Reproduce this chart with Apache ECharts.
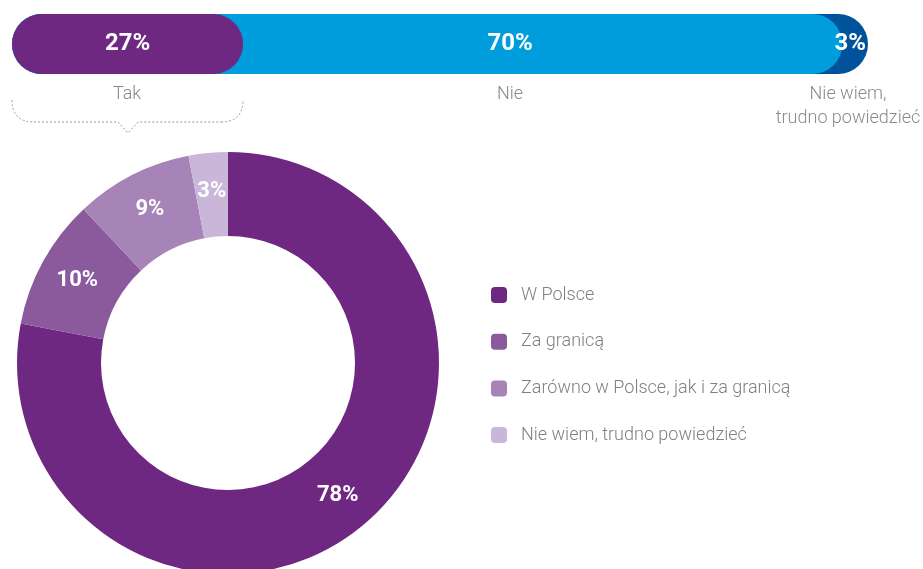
<!DOCTYPE html>
<html>
<head>
<meta charset="utf-8">
<script src="https://cdn.jsdelivr.net/npm/echarts@6/dist/echarts.min.js"></script>
<style>
  html, body { margin: 0; padding: 0; background: #fff; }
  #chart { width: 923px; height: 569px; }
</style>
</head>
<body>
<div id="chart"></div>
<script>
// top bar: answer shares
const answerNames = ['Tak', 'Nie', 'Nie wiem,\ntrudno powiedzieć'];
const answerValues = [27, 70, 3];
const answerColors = ['#6E2882', '#009DDC', '#00529B'];

// donut: where
const placeNames = ['W Polsce', 'Za granicą', 'Zarówno w Polsce, jak i za granicą', 'Nie wiem, trudno powiedzieć'];
const placeValues = [78, 10, 9, 3];
const placeColors = ['#6E2882', '#8A5A9C', '#A784B8', '#C9B6D8'];

const FONT = 'Roboto, "Noto Sans", sans-serif';

// the bars overlap, so each one runs from 0 to its running total
let running = 0;
const cumulative = answerValues.map(v => (running += v));

const barLabel = {
  show: true,
  color: '#fff',
  fontFamily: FONT,
  fontWeight: 'bold',
  fontSize: 24
};
const barSeries = answerValues.map((v, i) => ({
  type: 'bar',
  name: answerNames[i],
  barWidth: 60,
  barGap: '-100%',
  z: 10 - i,
  data: [cumulative[i]],
  itemStyle: {color: answerColors[i], borderRadius: 30},
  label: Object.assign({}, barLabel, {show: i < 2, position: 'inside', formatter: v + '%'}),
  silent: true
}));
barSeries[1].label.position = ['60%', '50%'];
barSeries[1].label.align = 'center';
barSeries[1].label.verticalAlign = 'middle';
// the last (narrow) piece sits under the others, so its label is put on a clear bar on top
barSeries.push({
  type: 'bar',
  barWidth: 60,
  barGap: '-100%',
  z: 20,
  data: [cumulative[2]],
  itemStyle: {color: 'rgba(0,0,0,0)'},
  label: Object.assign({}, barLabel, {position: 'insideRight', distance: 2, formatter: answerValues[2] + '%'}),
  silent: true
});

const captionStyle = {fill: '#8a8a8a', font: '300 18px ' + FONT, textAlign: 'center', lineHeight: 24};
const dash = {fill: 'none', stroke: '#9a9a9a', lineWidth: 1, lineDash: [2, 2]};

let chart = echarts.init(document.getElementById('chart'));
chart.setOption({
  animation: false,
  grid: {left: 12, right: 55, top: 14, height: 60},
  xAxis: {type: 'value', min: 0, max: 100, show: false},
  yAxis: {type: 'category', data: ['all'], show: false},
  legend: {
    orient: 'vertical',
    left: 486,
    top: 281,
    itemWidth: 16,
    itemHeight: 16,
    itemGap: 28.7,
    icon: 'roundRect',
    data: placeNames,
    textStyle: {
      color: '#808080',
      fontFamily: FONT,
      fontWeight: 300,
      fontSize: 18,
      padding: [0, 0, 0, 9]
    }
  },
  graphic: [
    {type: 'text', x: 127, y: 82, style: Object.assign({text: answerNames[0]}, captionStyle)},
    {type: 'text', x: 510, y: 82, style: Object.assign({text: answerNames[1]}, captionStyle)},
    {type: 'text', x: 848, y: 82, style: Object.assign({text: answerNames[2]}, captionStyle)},
    // dotted brace under "Tak"
    {type: 'bezierCurve', shape: {x1: 12, y1: 100, x2: 34, y2: 122, cpx1: 12, cpy1: 122}, style: dash},
    {type: 'polyline', shape: {points: [[34, 122], [118, 122], [128, 133], [138, 122], [221, 122]]}, style: dash},
    {type: 'bezierCurve', shape: {x1: 221, y1: 122, x2: 243, y2: 100, cpx1: 243, cpy1: 122}, style: dash}
  ],
  series: barSeries.concat([{
    type: 'pie',
    center: [228, 363],
    radius: [127, 211],
    startAngle: 90,
    clockwise: true,
    silent: true,
    data: placeValues.map((v, i) => ({name: placeNames[i], value: v, itemStyle: {color: placeColors[i]}})),
    label: {
      show: true,
      position: 'inside',
      formatter: '{c}%',
      color: '#fff',
      fontFamily: FONT,
      fontWeight: 'bold',
      fontSize: 22
    },
    labelLine: {show: false}
  }])
});
</script>
</body>
</html>
